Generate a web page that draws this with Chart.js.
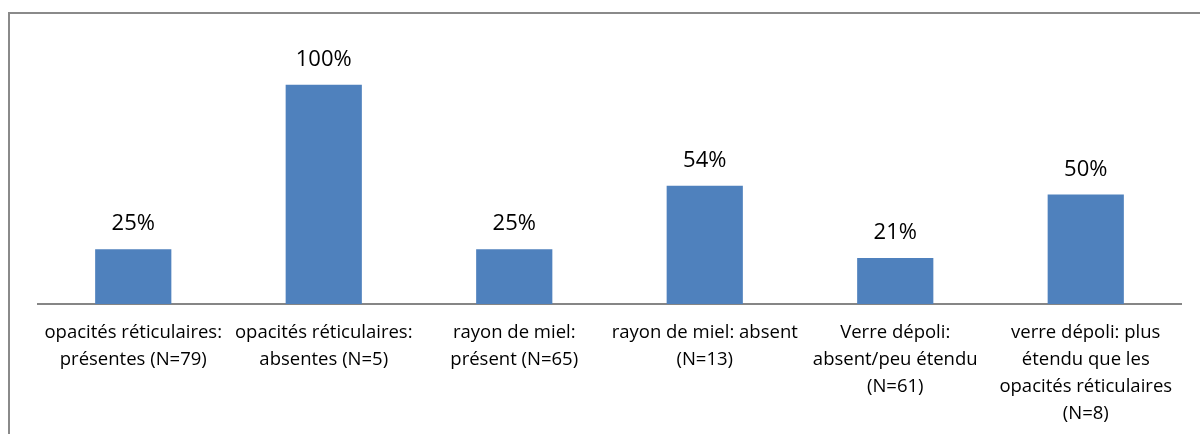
<!DOCTYPE html>
<html>
<head>
<meta charset="utf-8">
<script src="https://cdn.jsdelivr.net/npm/chart.js@4"></script>
<style>
    html, body { margin: 0; padding: 0; background: #fff; }
    #wrap { position: relative; width: 1200px; height: 434px; overflow: hidden; }
    #frame { position: absolute; left: 8px; top: 12px; width: 1300px; height: 500px;
        border-left: 2px solid #8a8a8a; border-top: 2px solid #8a8a8a; }
    #myChart { position: absolute; left: 0; top: 0; }
</style>
</head>
<body>
<div id="wrap">
    <div id="frame"></div>
    <canvas id="myChart" width="1200" height="434"></canvas>
</div>
<script>
const categories = [
    ['opacités réticulaires:', 'présentes (N=79)'],
    ['opacités réticulaires:', 'absentes (N=5)'],
    ['rayon de miel:', 'présent (N=65)'],
    ['rayon de miel: absent', '(N=13)'],
    ['Verre dépoli:', 'absent/peu étendu', '(N=61)'],
    ['verre dépoli: plus', 'étendu que les', 'opacités réticulaires', '(N=8)']
]
const values = [25, 100, 25, 54, 21, 50]
const valueLabels = ['25%', '100%', '25%', '54%', '21%', '50%']

const FONT = '"Open Sans", Lato, sans-serif'

// draws the % labels above each bar
const valueLabelPlugin = {
    id: 'valueLabels',
    afterDatasetsDraw(chart) {
        const ctx = chart.ctx
        const meta = chart.getDatasetMeta(0)
        ctx.save()
        ctx.font = '22px ' + FONT
        ctx.fillStyle = '#000'
        ctx.textAlign = 'center'
        ctx.textBaseline = 'middle'
        meta.data.forEach((bar, i) => {
            ctx.fillText(valueLabels[i], bar.x, bar.y - 25)
        })
        ctx.restore()
    }
}

const config = {
    type: 'bar',
    data: {
        labels: categories,
        datasets: [{
            data: values,
            backgroundColor: '#4f81bd',
            borderWidth: 0,
            barPercentage: 0.4,
            categoryPercentage: 1
        }]
    },
    options: {
        responsive: false,
        animation: false,
        layout: {
            padding: { left: 38, right: 19, top: 41, bottom: 0 }
        },
        plugins: {
            legend: { display: false },
            tooltip: { enabled: false }
        },
        scales: {
            y: {
                display: false,
                min: 0,
                max: 120
            },
            x: {
                grid: { display: false, drawTicks: false },
                border: { display: true, color: '#868686', width: 2 },
                ticks: {
                    color: '#000',
                    font: { family: FONT, size: 18.5, lineHeight: 1.46 },
                    padding: 15,
                    maxRotation: 0,
                    autoSkip: false
                },
                afterFit(scale) {
                    scale.height = 130
                }
            }
        }
    },
    plugins: [valueLabelPlugin]
}

let myChart = new Chart(document.getElementById('myChart'), config)
</script>
</body>
</html>
